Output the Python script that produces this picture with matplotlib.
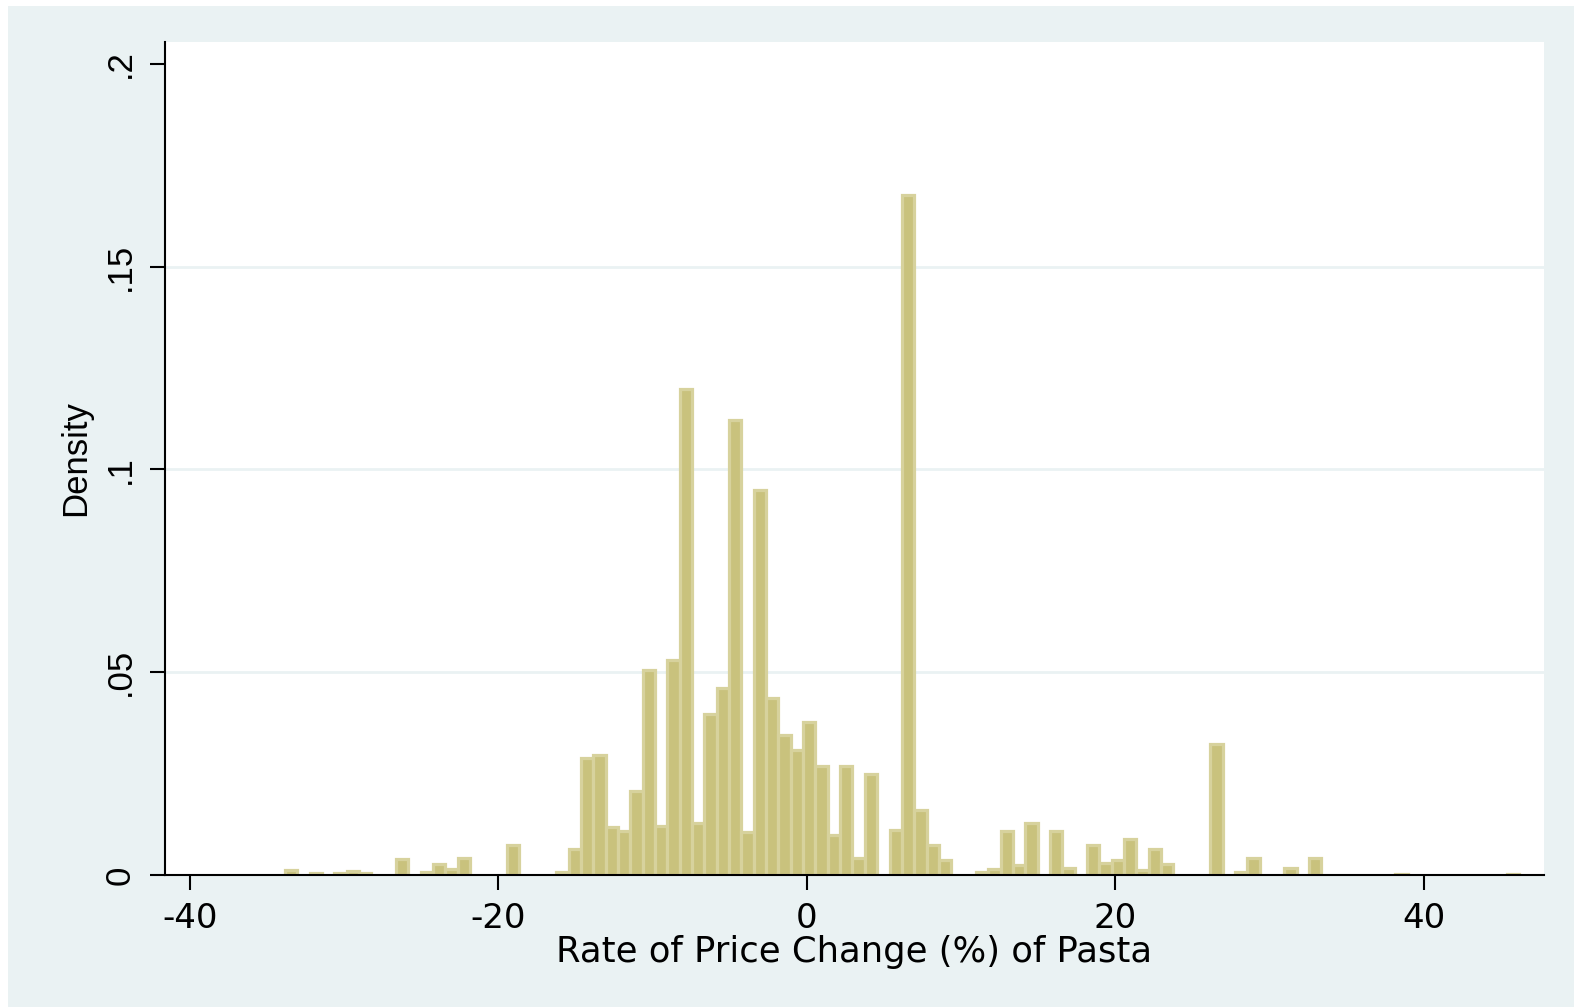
import numpy as np
import matplotlib
matplotlib.use("Agg")
import matplotlib.pyplot as plt
from matplotlib.patches import Rectangle

# Histogram of pasta price changes: 100 bins of width 0.8 starting at -33.85
bin_start = -33.85
bin_width = 0.8
density = [
    0.0012, 0.0, 0.0004, 0.0, 0.0004, 0.0009, 0.0004, 0.0, 0.0, 0.0039,
    0.0, 0.0007, 0.0028, 0.0015, 0.0041, 0.0, 0.0, 0.0, 0.0073, 0.0,
    0.0, 0.0, 0.0007, 0.0063, 0.0289, 0.0295, 0.0118, 0.0108, 0.0208, 0.0505,
    0.0120, 0.0529, 0.1198, 0.0129, 0.0398, 0.0460, 0.1122, 0.0106, 0.0949, 0.0436,
    0.0345, 0.0307, 0.0377, 0.0268, 0.0098, 0.0270, 0.0043, 0.0250, 0.0, 0.0112,
    0.1676, 0.0160, 0.0075, 0.0037, 0.0, 0.0, 0.0008, 0.0015, 0.0109, 0.0024,
    0.0128, 0.0, 0.0108, 0.0017, 0.0, 0.0074, 0.0029, 0.0038, 0.0088, 0.0012,
    0.0063, 0.0026, 0.0, 0.0, 0.0, 0.0324, 0.0, 0.0008, 0.0041, 0.0,
    0.0, 0.0018, 0.0, 0.0042, 0.0, 0.0, 0.0, 0.0, 0.0, 0.0,
    0.0003, 0.0, 0.0, 0.0, 0.0, 0.0, 0.0, 0.0, 0.0, 0.0003,
]
x_ticks = [-40, -20, 0, 20, 40]
x_tick_labels = ["-40", "-20", "0", "20", "40"]
y_ticks = [0, 0.05, 0.10, 0.15, 0.20]
y_tick_labels = ["0", ".05", ".1", ".15", ".2"]
x_title = "Rate of Price Change (%) of Pasta"
y_title = "Density"

BG = "#EAF2F3"
FILL = "#C9C27D"
EDGE = "#D7D29D"

W, H = 1574, 1007
fig = plt.figure(figsize=(W / 100, H / 100), dpi=100)
fig.patch.set_facecolor("white")

# outer graph region, behind everything else
fig.patches.append(Rectangle((8 / W, 0), (W - 8) / W, (H - 6) / H,
                             transform=fig.transFigure, facecolor=BG,
                             edgecolor="none", zorder=-10))

left, right, top, bottom = 165, 1544, 42, 875
ax = fig.add_axes([left / W, 1 - bottom / H, (right - left) / W, (bottom - top) / H])
ax.set_zorder(1)
ax.set_facecolor("white")

dens = np.array(density)
lefts = bin_start + bin_width * np.arange(len(dens))
mask = dens > 0
ax.bar(lefts[mask], dens[mask], width=bin_width, align="edge",
       color=FILL, edgecolor=EDGE, linewidth=2.3, zorder=2)

ax.set_xlim(-41.62, 47.78)
ax.set_ylim(0, 0.2054)

for yv in y_ticks[1:-1]:
    ax.axhline(yv, color=BG, linewidth=2.0, zorder=1)

for s in ["top", "right"]:
    ax.spines[s].set_visible(False)
for s in ["left", "bottom"]:
    ax.spines[s].set_linewidth(1.5)
    ax.spines[s].set_color("black")
    ax.spines[s].set_zorder(3)

ax.set_xticks(x_ticks)
ax.set_xticklabels(x_tick_labels, fontfamily="DejaVu Sans", fontsize=24.5)
ax.set_yticks(y_ticks)
ax.set_yticklabels(y_tick_labels, fontfamily="Liberation Sans", fontsize=25,
                   rotation=90, va="center")
ax.tick_params(axis="x", length=10.5, width=1.5, pad=9)
ax.tick_params(axis="y", length=10.5, width=1.5, pad=10)

ax.set_xlabel(x_title, fontfamily="DejaVu Sans", fontsize=25.5, labelpad=0)
ax.set_ylabel(y_title, fontfamily="Liberation Sans", fontsize=25, labelpad=8)

fig.savefig("out.png", dpi=100)
